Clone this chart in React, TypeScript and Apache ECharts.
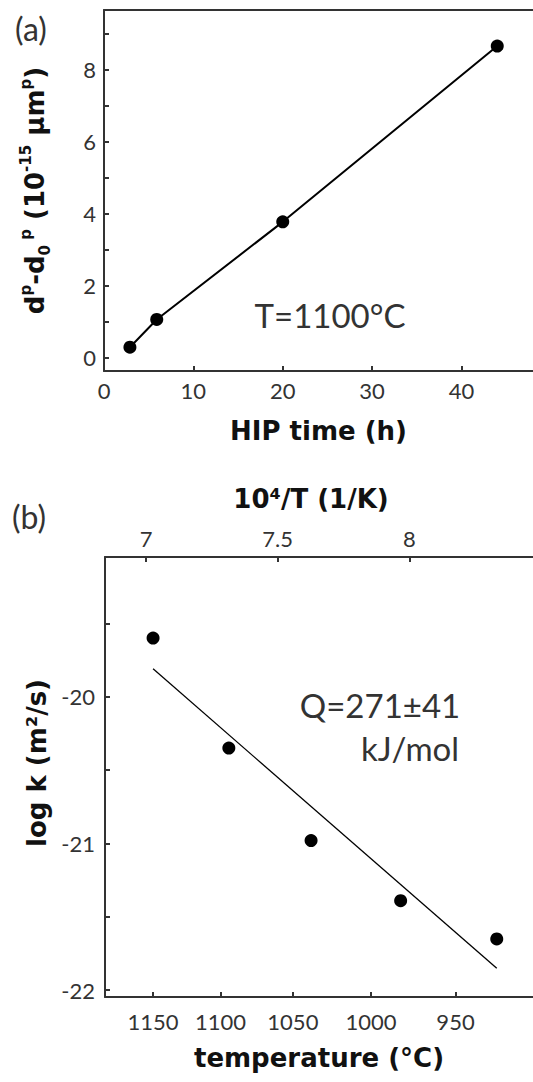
import { useEffect, useRef } from 'react';
import * as echarts from 'echarts';

// Panel (a): grain growth vs HIP time at 1100 °C
const hipTimeH = [2.9, 5.9, 20, 44];
const grainGrowth = [0.29, 1.06, 3.77, 8.65];

// Panel (b): rate constant vs HIP temperature, with Arrhenius fit
const hipTempC = [1150, 1094, 1038, 982, 927];
const logK = [-19.6, -20.35, -20.98, -21.39, -21.65];
const fitTempC = [1150, 927];
const fitLogK = [-19.81, -21.85];

// Tick positions and labels
const timeTicks = [0, 10, 20, 30, 40];
const growthTicks = [0, 1, 2, 3, 4, 5, 6, 7, 8, 9];
const growthLabels = [0, 2, 4, 6, 8];
const invTempTicks = [7, 7.5, 8];
const tempTicksC = [1150, 1100, 1050, 1000, 950];
const logKTicks = [-22, -21.5, -21, -20.5, -20, -19.5];
const logKLabels = [-22, -21, -20];

const toInvT = (c: number) => 1e4 / (c + 273.15);

const AXIS_COLOR = '#333';
const TICK_FONT = 'Lato, "Noto Sans", sans-serif';
const TITLE_FONT = '"DejaVu Sans", sans-serif';

const axisLine = { show: true, onZero: false, lineStyle: { color: AXIS_COLOR, width: 2 } };
const ticks = (values: number[]) => ({
  show: true,
  inside: true,
  length: 5,
  customValues: values,
  lineStyle: { color: AXIS_COLOR, width: 2 },
});
const labels = (values: number[], margin: number, extra: Record<string, unknown> = {}) => ({
  show: true,
  customValues: values,
  margin,
  fontFamily: TICK_FONT,
  fontSize: 22,
  color: AXIS_COLOR,
  ...extra,
});
const titleStyle = {
  fontFamily: TITLE_FONT,
  fontWeight: 'bold' as const,
  fontSize: 26,
  color: '#111',
};

export default function App() {
  const ref = useRef<HTMLDivElement>(null);

  useEffect(() => {
    if (!ref.current) return;
    const chart = echarts.init(ref.current, null, { renderer: 'svg' });

    const supStyle = { ...titleStyle, fontSize: 15, lineHeight: 15, verticalAlign: 'top' as const };
    const subStyle = { ...titleStyle, fontSize: 15, lineHeight: 15, verticalAlign: 'bottom' as const };
    const baseStyle = { ...titleStyle, lineHeight: 34 };
    const noteFont = (size: number) => `normal ${size}px ${TICK_FONT}`;

    chart.setOption({
      animation: false,
      backgroundColor: '#fff',
      grid: [
        { left: 104, top: 10, width: 432, height: 361 },
        { left: 105, top: 557, width: 428, height: 440 },
      ],
      xAxis: [
        {
          type: 'value',
          gridIndex: 0,
          position: 'bottom',
          min: 0,
          max: 48,
          axisLine,
          axisTick: ticks(timeTicks),
          axisLabel: labels(timeTicks, 8),
          splitLine: { show: false },
          name: 'HIP time (h)',
          nameLocation: 'middle',
          nameGap: 47,
          nameTextStyle: titleStyle,
        },
        {
          type: 'value',
          gridIndex: 0,
          position: 'top',
          min: 0,
          max: 48,
          axisLine,
          axisTick: { show: false },
          axisLabel: { show: false },
          splitLine: { show: false },
        },
        {
          type: 'value',
          gridIndex: 1,
          position: 'bottom',
          min: 6.844,
          max: 8.47,
          axisLine,
          axisTick: ticks(tempTicksC.map(toInvT)),
          axisLabel: labels(tempTicksC.map(toInvT), 13, {
            formatter: (v: number) => String(Math.round(1e4 / v - 273.15)),
          }),
          splitLine: { show: false },
          name: 'temperature (°C)',
          nameLocation: 'middle',
          nameGap: 48,
          nameTextStyle: titleStyle,
        },
        {
          type: 'value',
          gridIndex: 1,
          position: 'top',
          min: 6.844,
          max: 8.47,
          axisLine,
          axisTick: ticks(invTempTicks),
          axisLabel: labels(invTempTicks, 8),
          splitLine: { show: false },
          name: '10⁴/T (1/K)',
          nameLocation: 'middle',
          nameGap: 45,
          nameTextStyle: { ...titleStyle, padding: [0, 16, 0, 0] },
        },
      ],
      yAxis: [
        {
          type: 'value',
          gridIndex: 0,
          min: -0.37,
          max: 9.65,
          axisLine,
          axisTick: ticks(growthTicks),
          axisLabel: labels(growthLabels, 8),
          splitLine: { show: false },
          name: '{b|d}{sup|p}{b|-d}{sub|0}{sup| p}{b| (10}{sup|-15}{b| μm}{sup|p}{b|)}',
          nameLocation: 'middle',
          nameRotate: 90,
          nameGap: 52,
          nameTextStyle: {
            ...titleStyle,
            rich: { b: baseStyle, sup: supStyle, sub: subStyle },
          },
        },
        {
          type: 'value',
          gridIndex: 1,
          min: -22.046,
          max: -19.048,
          axisLine,
          axisTick: ticks(logKTicks),
          axisLabel: labels(logKLabels, 10),
          splitLine: { show: false },
          name: 'log k (m²/s)',
          nameLocation: 'middle',
          nameRotate: 90,
          nameGap: 52,
          nameTextStyle: { ...titleStyle, padding: [0, 0, 0, 28] },
        },
      ],
      series: [
        {
          type: 'line',
          xAxisIndex: 0,
          yAxisIndex: 0,
          data: hipTimeH.map((t, i) => [t, grainGrowth[i]]),
          symbol: 'circle',
          symbolSize: 13,
          lineStyle: { color: '#000', width: 2 },
          itemStyle: { color: '#000', opacity: 1 },
          z: 3,
        },
        {
          type: 'line',
          xAxisIndex: 2,
          yAxisIndex: 1,
          data: fitTempC.map((t, i) => [toInvT(t), fitLogK[i]]),
          symbol: 'none',
          lineStyle: { color: '#000', width: 1.3 },
        },
        {
          type: 'scatter',
          xAxisIndex: 2,
          yAxisIndex: 1,
          data: hipTempC.map((t, i) => [toInvT(t), logK[i]]),
          symbol: 'circle',
          symbolSize: 13,
          itemStyle: { color: '#000', opacity: 1 },
          z: 3,
        },
      ],
      graphic: [
        {
          type: 'text',
          x: 31,
          y: 28,
          style: { text: '(a)', font: noteFont(32), fill: AXIS_COLOR, align: 'center', verticalAlign: 'middle' },
        },
        {
          type: 'text',
          x: 29,
          y: 516,
          style: { text: '(b)', font: noteFont(32), fill: AXIS_COLOR, align: 'center', verticalAlign: 'middle' },
        },
        {
          type: 'text',
          x: 330,
          y: 315,
          style: { text: 'T=1100°C', font: noteFont(33), fill: AXIS_COLOR, align: 'center', verticalAlign: 'middle' },
        },
        {
          type: 'text',
          x: 380,
          y: 705,
          style: { text: 'Q=271±41', font: noteFont(33), fill: AXIS_COLOR, align: 'center', verticalAlign: 'middle' },
        },
        {
          type: 'text',
          x: 410,
          y: 748,
          style: { text: 'kJ/mol', font: noteFont(33), fill: AXIS_COLOR, align: 'center', verticalAlign: 'middle' },
        },
      ],
    });

    return () => chart.dispose();
  }, []);

  return (
    <div
      ref={ref}
      style={{ position: 'absolute', left: 0, top: 0, width: 533, height: 1082, background: '#fff' }}
    />
  );
}
